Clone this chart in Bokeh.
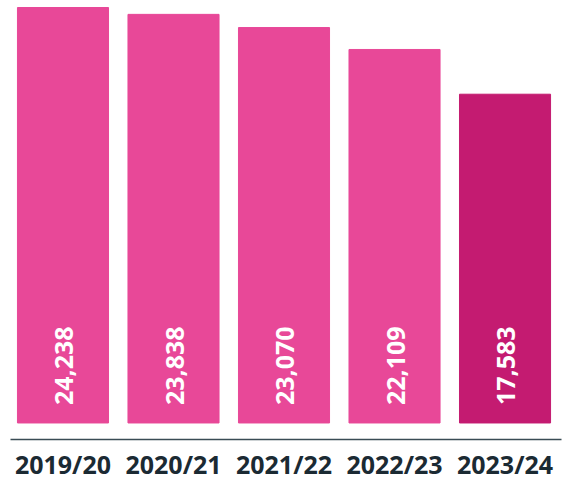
from bokeh.plotting import figure
from bokeh.models import ColumnDataSource, Range1d, FixedTicker
from bokeh.core.properties import value
from bokeh.embed import file_html
from bokeh.resources import INLINE

years = ["2019/20", "2020/21", "2021/22", "2022/23", "2023/24"]
values = [24238, 23838, 23070, 22109, 17583]
# bar heights as drawn in the reference (chart units)
bar_heights = [24238, 23838, 23070, 21790, 19180]
colors = ["#E84898", "#E84898", "#E84898", "#E84898", "#C41B71"]

xs = list(range(len(years)))
labels = [f"{v:,}" for v in values]
src = ColumnDataSource(dict(x=xs, top=bar_heights, color=colors, label=labels,
                            zero=[0] * len(xs)))

p = figure(width=564, height=483, output_backend="svg", toolbar_location=None,
           x_range=Range1d(-0.475, 4.511), y_range=Range1d(-964, 24647),
           min_border_left=10, min_border_right=3, min_border_top=0, min_border_bottom=0)

p.vbar(x="x", top="top", bottom=0, width=0.824, color="color", source=src)
p.text(x="x", y="zero", text="label", angle=1.5708, text_align="left",
       text_baseline="middle", y_offset=-18, x_offset=1, text_color="white",
       text_font=value("Open Sans"), text_font_style="bold", text_font_size="25px",
       source=src)

p.yaxis.visible = False
p.grid.visible = False
p.outline_line_color = None
ax = p.xaxis[0]
ax.ticker = FixedTicker(ticks=xs)
ax.major_label_overrides = {i: y for i, y in enumerate(years)}
ax.major_tick_line_color = None
ax.minor_tick_line_color = None
ax.axis_line_color = "#3A4C55"
ax.axis_line_width = 1.5
ax.major_label_text_font = "Open Sans"
ax.major_label_text_font_style = "bold"
ax.major_label_text_font_size = "25px"
ax.major_label_text_color = "#1B2A33"
ax.major_label_standoff = 1

open("out.html", "w").write(file_html(p, INLINE))
